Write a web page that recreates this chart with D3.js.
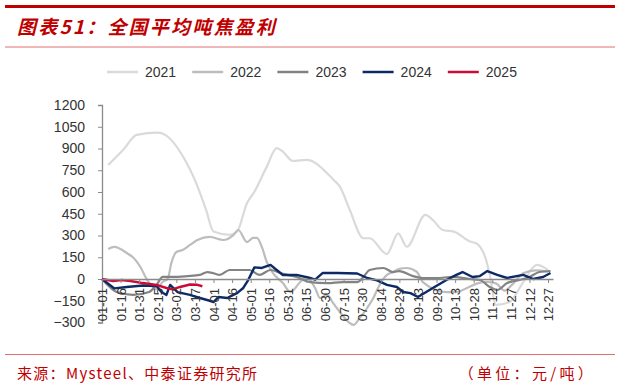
<!DOCTYPE html>
<html><head><meta charset="utf-8">
<script src="https://cdn.jsdelivr.net/npm/d3@7/dist/d3.min.js"></script>
<style>body{margin:0;background:#fff}</style>
</head><body>
<script>
const years = ["2021","2022","2023","2024","2025"];
const colors = ["#dadada","#bdbdbd","#838383","#0c2a66","#cc0a35"];
const tickLabels = ["01-01","01-16","01-31","02-15","03-02","03-17","04-01","04-16","05-01","05-16","05-31","06-15","06-30","07-15","07-30","08-14","08-29","09-13","09-28","10-13","10-28","11-12","11-27","12-12","12-27"];
const yTicks = [-300,-150,0,150,300,450,600,750,900,1050,1200];

const dates2021 = ["01-06","01-18","01-29","02-15","02-21","03-09","03-17","03-26","04-01","04-14","04-20","04-28","05-04","05-14","05-22","05-27","06-04","06-15","07-07","07-12","07-20","07-31","08-05","08-19","08-28","09-04","09-19","09-25","10-03","10-12","10-25","10-30","11-07","11-10","11-15","11-26","12-07","12-18","12-27"];
const values2021 = [787,890,994,1010,994,821,683,476,327,304,327,522,602,775,902,878,814,821,683,637,476,281,281,172,315,223,442,407,338,327,258,246,131,28,-179,-159,-21,97,62];

const dates2022 = ["01-06","01-11","01-21","01-26","02-01","02-06","02-11","02-14","02-19","02-23","02-26","03-02","03-07","03-13","03-19","03-29","04-09","04-17","04-21","04-28","05-03","05-06","05-10","05-14","05-19","05-27","06-02","06-10","06-15","06-22","06-26","07-02","07-06","07-12","07-19","07-23","07-28","08-03","08-08","08-13","08-19","08-24","08-29","09-04","09-12","09-17","10-06","10-14","10-23","10-31","11-08","11-15","11-22","11-29","12-07","12-17","12-27"];
const values2022 = [207,221,179,150,83,0,-55,-70,-20,0,110,186,200,235,269,290,269,303,338,255,283,283,221,117,41,-28,-90,-21,14,-62,-131,-110,-159,-228,-297,-317,-269,-200,-131,-41,28,48,70,76,50,-21,-90,-90,-60,-30,-20,-30,-80,-30,40,60,50];

const dates2023 = ["01-01","01-13","01-26","02-08","02-14","02-19","02-27","03-11","03-21","03-27","04-01","04-06","04-14","04-22","04-30","05-08","05-17","05-27","06-07","06-18","07-02","07-14","07-26","07-31","08-05","08-16","08-24","08-29","09-09","09-17","09-28","10-11","10-25","11-02","11-10","11-16","11-24","12-04","12-12","12-20","12-29"];
const values2023 = [0,-90,-110,-90,-41,14,14,20,28,48,40,28,62,62,62,28,62,35,14,-21,-28,-21,-21,14,62,76,48,55,20,7,7,14,0,-7,-55,-76,-28,-7,14,48,55];

const dates2024 = ["01-01","01-11","01-21","02-03","02-14","02-18","02-22","02-25","03-03","03-13","03-21","03-29","04-01","04-05","04-12","04-20","04-25","04-29","05-04","05-10","05-17","05-22","05-27","06-07","06-18","06-22","06-28","07-10","07-26","08-03","08-11","08-19","08-27","09-01","09-07","09-13","09-25","10-06","10-14","10-19","10-27","11-02","11-08","11-16","11-24","12-07","12-15","12-23","12-29"];
const values2024 = [0,-65,-55,-45,-48,-90,-110,-41,-90,-110,-131,-150,-159,-124,-131,-97,-62,-7,80,76,97,62,28,28,7,-5,41,41,38,7,-10,-41,-55,-90,-97,-124,-62,-7,28,48,14,20,55,28,7,28,0,14,41];

const dates2025 = ["01-01","01-10","01-17","01-24","02-03","02-14","02-22","02-27","03-05","03-13","03-19","03-23"];
const values2025 = [0,-14,-7,-14,-28,-41,-62,-72,-55,-38,-40,-50];

const seriesDates = [dates2021,dates2022,dates2023,dates2024,dates2025];
const seriesValues = [values2021,values2022,values2023,values2024,values2025];

const W = 619, H = 384;
const svg = d3.select("body").append("svg").attr("width",W).attr("height",H)
  .style("font-family","'Liberation Sans', Arial, sans-serif");

// header / footer decoration
svg.append("line").attr("x1",5).attr("x2",615).attr("y1",6.5).attr("y2",6.5).attr("stroke","#c00000").attr("stroke-width",3);
svg.append("text").attr("x",17).attr("y",34).text("图表51：全国平均吨焦盈利")
  .attr("fill","#c00000").attr("font-size",19).attr("font-weight","bold").attr("font-style","italic")
  .attr("letter-spacing",2.2)
  .attr("font-family","'Noto Sans CJK SC', sans-serif");
svg.append("line").attr("x1",5).attr("x2",615).attr("y1",47).attr("y2",47).attr("stroke","#e07070").attr("stroke-width",1);
svg.append("line").attr("x1",5).attr("x2",615).attr("y1",354.5).attr("y2",354.5).attr("stroke","#e07070").attr("stroke-width",1);
svg.append("text").attr("x",17).attr("y",379).text("来源：Mysteel、中泰证券研究所")
  .attr("fill","#c00000").attr("font-size",15).attr("letter-spacing",1.3)
  .attr("font-family","'Noto Sans CJK SC', sans-serif");
svg.append("text").attr("x",596).attr("y",379).attr("text-anchor","end").text("（单位：元/吨）")
  .attr("fill","#c00000").attr("font-size",15).attr("letter-spacing",3.3)
  .attr("font-family","'Noto Sans CJK SC', sans-serif");

const parse = d3.timeParse("%m-%d");
const x = d3.scaleTime().domain([parse("01-01"), parse("12-31")]).range([102, 553]);
const y = d3.scaleLinear().domain([-300,1200]).range([322.5,105]);

// y axis
const ya = svg.append("g").attr("transform","translate(102,0)")
  .call(d3.axisLeft(y).tickValues(yTicks).tickSize(4).tickPadding(13).tickFormat(d3.format("d")));
ya.select(".domain").attr("stroke","#8a8a8a").attr("stroke-width",1.3);
ya.selectAll(".tick line").attr("stroke","#8a8a8a");
ya.selectAll("text").attr("font-size",14).attr("fill","#333").attr("font-family","'Liberation Sans', Arial, sans-serif");

// lines
years.forEach((yr,i)=>{
  const pts = seriesDates[i].map((d,j)=>({d:parse(d), v:seriesValues[i][j]}));
  const line = d3.line().x(p=>x(p.d)).y(p=>y(p.v))
    .curve(i<3 ? d3.curveMonotoneX : d3.curveLinear);
  svg.append("path").datum(pts).attr("d",line).attr("fill","none")
    .attr("stroke",colors[i]).attr("stroke-width", i>=3 ? 2.4 : 2.2)
    .attr("stroke-linejoin","round");
});

// x axis at zero
const xa = svg.append("g").attr("transform",`translate(0,${y(0)})`)
  .call(d3.axisBottom(x).tickValues(tickLabels.map(parse)).tickSize(4).tickFormat((d,i)=>tickLabels[i]).tickSizeOuter(0));
xa.select(".domain").attr("stroke","#8a8a8a").attr("stroke-width",1.3);
xa.selectAll(".tick line").attr("stroke","#8a8a8a");
xa.selectAll("text").attr("font-size",13).attr("fill","#333")
  .attr("font-family","'Liberation Sans', Arial, sans-serif")
  .attr("transform","rotate(-90)").attr("text-anchor","end")
  .attr("x",-9).attr("y",0).attr("dy","0.35em");

// legend
const lg = svg.append("g");
years.forEach((yr,i)=>{
  const lx = 107 + i*85.2;
  lg.append("line").attr("x1",lx).attr("x2",lx+31).attr("y1",72).attr("y2",72)
    .attr("stroke",colors[i]).attr("stroke-width",2.5);
  lg.append("text").attr("x",lx+38).attr("y",72).attr("dy","0.35em").text(yr)
    .attr("font-size",14).attr("fill","#333");
});
</script>
</body></html>
